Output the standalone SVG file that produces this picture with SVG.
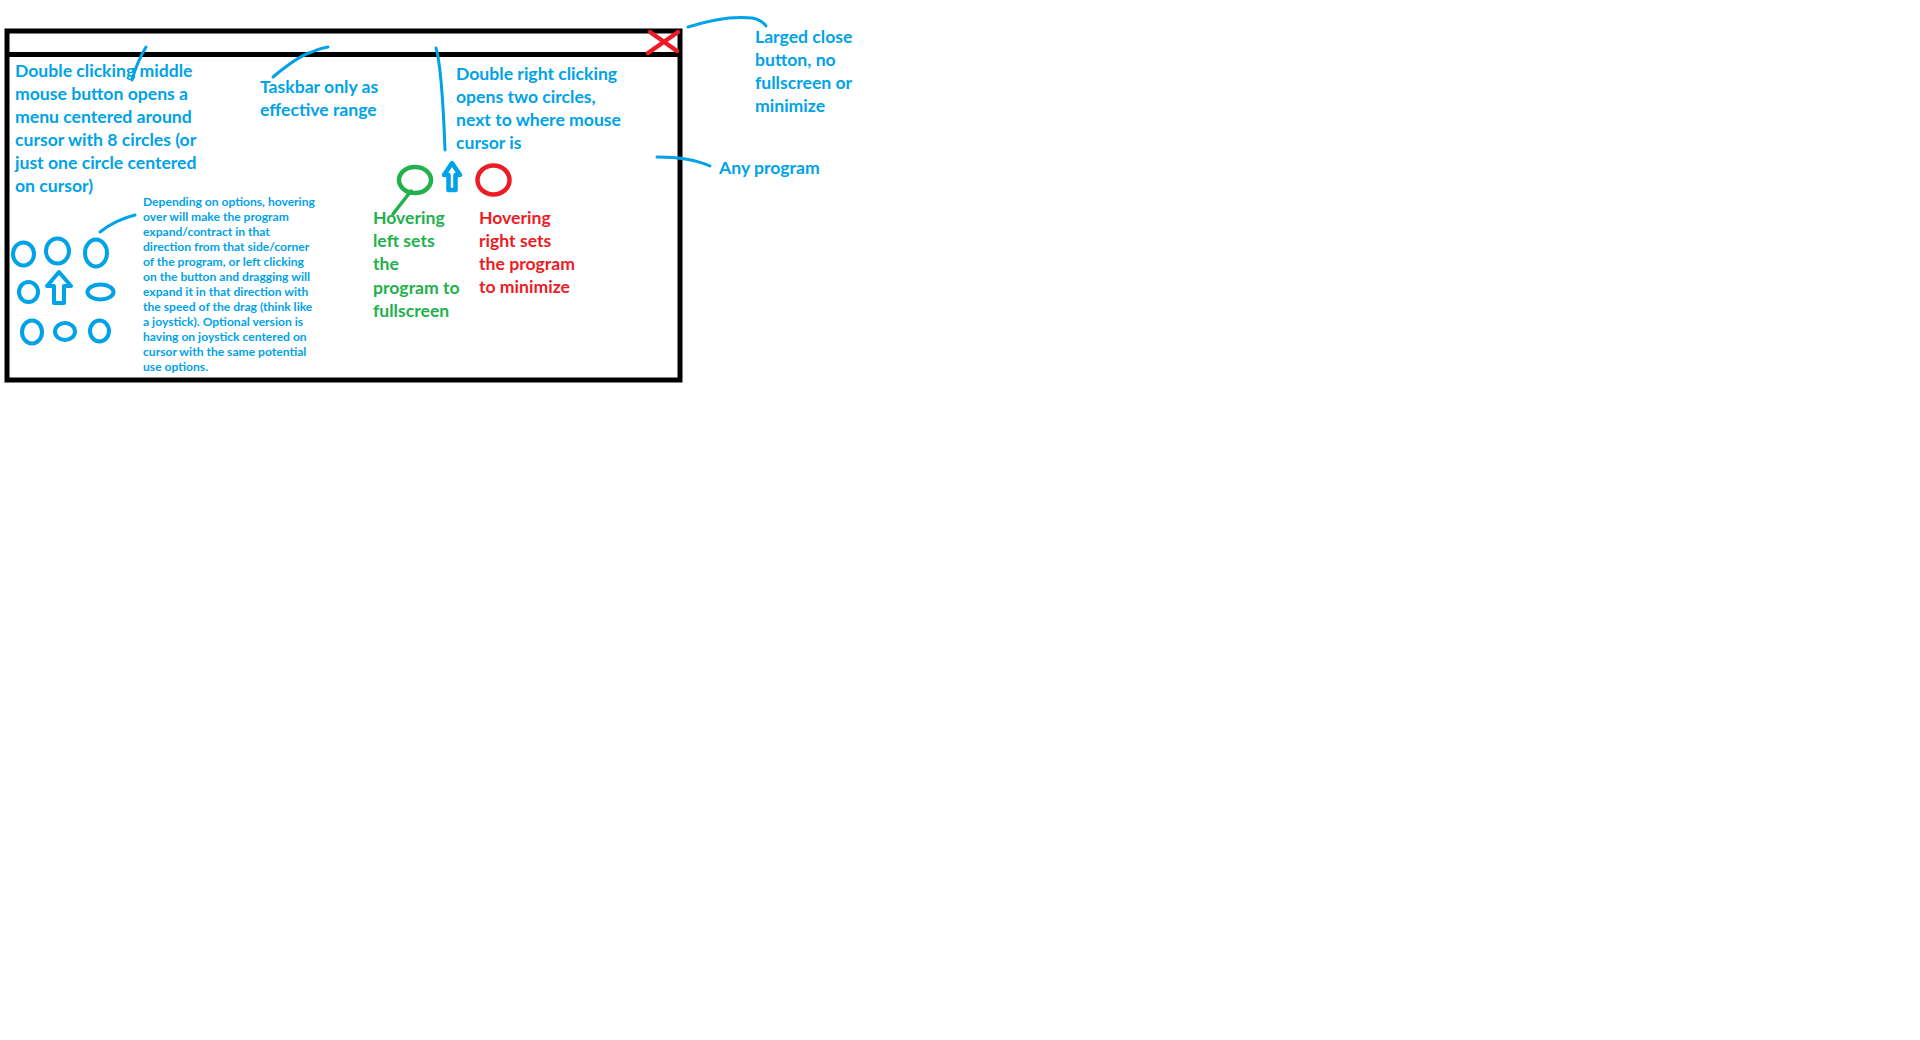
<svg xmlns="http://www.w3.org/2000/svg" width="1920" height="1040" viewBox="0 0 1920 1040">
<style>
text{font-family:Lato,"Open Sans","Liberation Sans",sans-serif;font-weight:bold}
.b{fill:#00A2E8}.g{fill:#22B14C}.r{fill:#ED1C24}
.t{font-size:17.6px}.s{font-size:12.1px}
.bl{fill:none;stroke:#00A2E8;stroke-width:3;stroke-linecap:round}
.ring{fill:none;stroke:#00A2E8;stroke-width:4}
</style>
<rect width="1920" height="1040" fill="#fff"/>
<g id="window">
<rect x="7" y="31" width="673" height="349" fill="none" stroke="#000" stroke-width="5"/>
<line x1="5" y1="54.5" x2="682" y2="54.5" stroke="#000" stroke-width="5"/>
</g>
<g id="close-button" stroke="#ED1C24" stroke-width="4.5" stroke-linecap="round">
<line x1="650" y1="32" x2="677" y2="51"/>
<line x1="678" y1="32" x2="648" y2="53"/>
</g>
<g id="connectors">
<path class="bl" d="M146,47 Q137,62 132,80"/>
<path class="bl" d="M273,77 Q298,56 312,52 Q321,48 328,47"/>
<path class="bl" d="M436,48 Q442,68 445,150"/>
<path class="bl" d="M688,27 Q725,15 752,18 Q762,20 766,26"/>
<path class="bl" d="M657,157 Q690,157 710,166"/>
<path class="bl" d="M100,232 Q115,220 135,215"/>
<path fill="none" stroke="#22B14C" stroke-width="3.5" stroke-linecap="round" d="M411,191 L393,214"/>
</g>
<g id="node-middle-click">
<text class="t b" x="15"><tspan x="15" y="77">Double clicking middle</tspan><tspan x="15" y="100">mouse button opens a</tspan><tspan x="15" y="123">menu centered around</tspan><tspan x="15" y="146">cursor with 8 circles (or</tspan><tspan x="15" y="169">just one circle centered</tspan><tspan x="15" y="192">on cursor)</tspan></text>
</g>
<g id="node-taskbar">
<text class="t b"><tspan x="260" y="93">Taskbar only as</tspan><tspan x="260" y="116">effective range</tspan></text>
</g>
<g id="node-right-click">
<text class="t b"><tspan x="456" y="80">Double right clicking</tspan><tspan x="456" y="103">opens two circles,</tspan><tspan x="456" y="126">next to where mouse</tspan><tspan x="456" y="149">cursor is</tspan></text>
</g>
<g id="node-close">
<text class="t b"><tspan x="755" y="43">Larged close</tspan><tspan x="755" y="66">button, no</tspan><tspan x="755" y="89">fullscreen or</tspan><tspan x="755" y="112">minimize</tspan></text>
</g>
<g id="node-any-program">
<text class="t b" x="719" y="174">Any program</text>
</g>
<g id="node-joystick-text">
<text class="s b"><tspan x="143" y="206">Depending on options, hovering</tspan><tspan x="143" y="221">over will make the program</tspan><tspan x="143" y="236">expand/contract in that</tspan><tspan x="143" y="251">direction from that side/corner</tspan><tspan x="143" y="266">of the program, or left clicking</tspan><tspan x="143" y="281">on the button and dragging will</tspan><tspan x="143" y="296">expand it in that direction with</tspan><tspan x="143" y="311">the speed of the drag (think like</tspan><tspan x="143" y="326">a joystick). Optional version is</tspan><tspan x="143" y="341">having on joystick centered on</tspan><tspan x="143" y="356">cursor with the same potential</tspan><tspan x="143" y="371">use options.</tspan></text>
</g>
<g id="node-eight-circles">
<ellipse class="ring" cx="23.5" cy="254" rx="10.5" ry="11.5"/>
<ellipse class="ring" cx="57.5" cy="251" rx="11.5" ry="12.5"/>
<ellipse class="ring" cx="96" cy="253" rx="11" ry="13.5"/>
<ellipse class="ring" cx="28.5" cy="292" rx="9.5" ry="10"/>
<ellipse class="ring" cx="100.5" cy="292" rx="13" ry="7.5"/>
<ellipse class="ring" cx="32" cy="332" rx="10" ry="11.5"/>
<ellipse class="ring" cx="65" cy="331.5" rx="10" ry="8.5"/>
<ellipse class="ring" cx="99.5" cy="331" rx="9.5" ry="10.5"/>
<polygon points="59,272 71,286 64,286 64,303 54,303 54,286 47,286" fill="#fff" stroke="#00A2E8" stroke-width="4" stroke-linejoin="round"/>
</g>
<g id="node-two-circles">
<ellipse cx="415" cy="180" rx="16" ry="13" fill="none" stroke="#22B14C" stroke-width="4.5"/>
<polygon points="452,163 460,175 455.5,175 455.5,190 448.5,190 448.5,175 444,175" fill="#fff" stroke="#00A2E8" stroke-width="4.5" stroke-linejoin="round"/>
<ellipse cx="493.5" cy="180" rx="16" ry="14.5" fill="none" stroke="#ED1C24" stroke-width="4.5"/>
</g>
<g id="node-hover-left">
<text class="t g"><tspan x="373" y="224">Hovering</tspan><tspan x="373" y="247">left sets</tspan><tspan x="373" y="270">the</tspan><tspan x="373" y="294">program to</tspan><tspan x="373" y="317">fullscreen</tspan></text>
</g>
<g id="node-hover-right">
<text class="t r"><tspan x="479" y="224">Hovering</tspan><tspan x="479" y="247">right sets</tspan><tspan x="479" y="270">the program</tspan><tspan x="479" y="293">to minimize</tspan></text>
</g>
</svg>
